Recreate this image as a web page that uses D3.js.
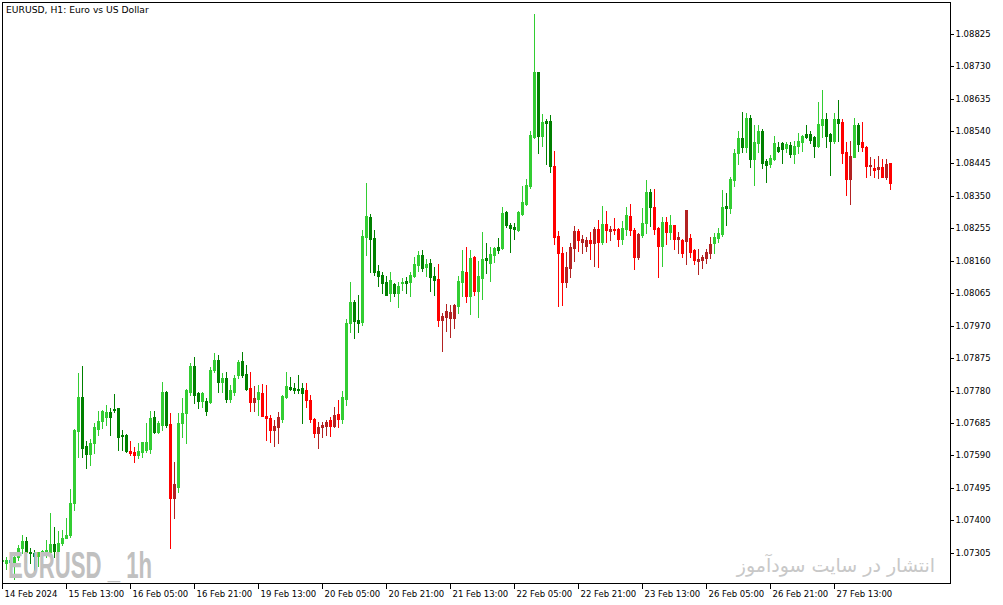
<!DOCTYPE html>
<html><head><meta charset="utf-8">
<script src="https://cdn.jsdelivr.net/npm/d3@7"></script>
<style>html,body{margin:0;padding:0;background:#fff;overflow:hidden}svg{display:block}</style>
</head><body>
<svg id="chart" width="1003" height="605"></svg>
<script>
const title = "EURUSD, H1:  Euro vs US Dollar";
const watermark = "EURUSD _ 1h";
const siteText = "انتشار در سایت سودآموز";
const timeLabels = ["14 Feb 2024","15 Feb 13:00","16 Feb 05:00","16 Feb 21:00","19 Feb 13:00","20 Feb 05:00","20 Feb 21:00","21 Feb 13:00","22 Feb 05:00","22 Feb 21:00","23 Feb 13:00","26 Feb 05:00","26 Feb 21:00","27 Feb 13:00"];
const labelBars = [0,16,32,48,64,80,96,112,128,144,160,176,192,208];
const priceTicks = [1.08825,1.08730,1.08635,1.08540,1.08445,1.08350,1.08255,1.08160,1.08065,1.07970,1.07875,1.07780,1.07685,1.07590,1.07495,1.07400,1.07305];

const open = [1.07281,1.07276,1.07284,1.07278,1.07293,1.07318,1.07340,1.07308,1.07304,1.07295,1.07307,1.07304,1.07308,1.07331,1.07311,1.07334,1.07349,1.07357,1.07451,1.07662,
1.07760,1.07618,1.07594,1.07625,1.07666,1.07692,1.07703,1.07718,1.07727,1.07728,1.07650,1.07650,1.07603,1.07601,1.07591,1.07601,1.07606,1.07608,1.07702,1.07659,
1.07679,1.07777,1.07682,1.07465,1.07498,1.07684,1.07715,1.07777,1.07852,1.07772,1.07750,1.07749,1.07747,1.07840,1.07869,1.07804,1.07816,1.07754,1.07777,1.07826,
1.07866,1.07828,1.07787,1.07747,1.07754,1.07772,1.07705,1.07700,1.07664,1.07674,1.07696,1.07762,1.07790,1.07787,1.07784,1.07787,1.07782,1.07752,1.07696,1.07656,
1.07672,1.07676,1.07694,1.07676,1.07711,1.07698,1.07756,1.07977,1.08039,1.07987,1.07982,1.08229,1.08288,1.08227,1.08130,1.08118,1.08097,1.08066,1.08093,1.08066,
1.08094,1.08101,1.08099,1.08115,1.08148,1.08177,1.08143,1.08153,1.08115,1.08107,1.07987,1.07994,1.07992,1.07992,1.08028,1.08099,1.08127,1.08058,1.08172,1.08072,
1.08110,1.08169,1.08153,1.08177,1.08201,1.08197,1.08304,1.08265,1.08258,1.08250,1.08297,1.08326,1.08380,1.08523,1.08714,1.08525,1.08569,1.08569,1.08438,1.08233,
1.08184,1.08099,1.08140,1.08198,1.08247,1.08216,1.08203,1.08221,1.08213,1.08253,1.08216,1.08268,1.08248,1.08253,1.08253,1.08224,1.08252,1.08291,1.08250,1.08170,
1.08236,1.08270,1.08362,1.08318,1.08255,1.08203,1.08273,1.08245,1.08265,1.08224,1.08221,1.08219,1.08226,1.08192,1.08159,1.08162,1.08169,1.08184,1.08211,1.08226,
1.08238,1.08320,1.08315,1.08397,1.08476,1.08519,1.08492,1.08577,1.08458,1.08506,1.08541,1.08452,1.08443,1.08457,1.08492,1.08504,1.08489,1.08499,1.08472,1.08496,
1.08509,1.08531,1.08531,1.08523,1.08496,1.08558,1.08575,1.08531,1.08512,1.08575,1.08567,1.08479,1.08399,1.08465,1.08558,1.08509,1.08494,1.08438,1.08433,1.08429,
1.08436,1.08406,1.08445];

const high = [1.07293,1.07293,1.07298,1.07298,1.07328,1.07357,1.07352,1.07319,1.07313,1.07307,1.07313,1.07342,1.07420,1.07380,1.07370,1.07372,1.07406,1.07491,1.07666,1.07830,
1.07852,1.07632,1.07637,1.07684,1.07721,1.07723,1.07738,1.07728,1.07770,1.07728,1.07664,1.07652,1.07632,1.07616,1.07625,1.07630,1.07684,1.07721,1.07721,1.07691,
1.07804,1.07780,1.07715,1.07572,1.07715,1.07757,1.07784,1.07860,1.07879,1.07777,1.07777,1.07757,1.07850,1.07889,1.07884,1.07830,1.07833,1.07796,1.07826,1.07869,
1.07894,1.07855,1.07835,1.07793,1.07796,1.07798,1.07796,1.07708,1.07694,1.07718,1.07767,1.07835,1.07820,1.07802,1.07826,1.07801,1.07801,1.07767,1.07699,1.07689,
1.07689,1.07694,1.07703,1.07733,1.07752,1.07780,1.07989,1.08098,1.08045,1.08060,1.08250,1.08389,1.08297,1.08250,1.08148,1.08128,1.08115,1.08128,1.08096,1.08099,
1.08109,1.08112,1.08128,1.08172,1.08190,1.08192,1.08164,1.08164,1.08143,1.08151,1.08008,1.08033,1.08030,1.08033,1.08115,1.08192,1.08201,1.08192,1.08174,1.08160,
1.08245,1.08211,1.08201,1.08201,1.08228,1.08318,1.08307,1.08272,1.08272,1.08307,1.08379,1.08399,1.08540,1.08883,1.08714,1.08590,1.08575,1.08587,1.08481,1.08248,
1.08201,1.08187,1.08211,1.08262,1.08252,1.08236,1.08231,1.08245,1.08260,1.08279,1.08320,1.08307,1.08262,1.08284,1.08255,1.08277,1.08318,1.08326,1.08255,1.08240,
1.08315,1.08397,1.08369,1.08369,1.08258,1.08289,1.08289,1.08294,1.08265,1.08245,1.08223,1.08309,1.08238,1.08194,1.08194,1.08177,1.08194,1.08229,1.08242,1.08255,
1.08367,1.08358,1.08406,1.08486,1.08541,1.08597,1.08592,1.08587,1.08558,1.08558,1.08545,1.08458,1.08470,1.08525,1.08509,1.08509,1.08509,1.08509,1.08512,1.08535,
1.08528,1.08558,1.08541,1.08525,1.08626,1.08660,1.08594,1.08535,1.08592,1.08631,1.08574,1.08509,1.08512,1.08577,1.08564,1.08567,1.08496,1.08465,1.08458,1.08467,
1.08457,1.08457,1.08445];

const low = [1.07269,1.07257,1.07266,1.07228,1.07284,1.07304,1.07279,1.07275,1.07246,1.07266,1.07264,1.07293,1.07304,1.07293,1.07303,1.07328,1.07347,1.07352,1.07430,1.07586,
1.07586,1.07552,1.07562,1.07598,1.07650,1.07670,1.07679,1.07650,1.07718,1.07606,1.07606,1.07601,1.07591,1.07572,1.07582,1.07585,1.07601,1.07596,1.07655,1.07656,
1.07664,1.07674,1.07318,1.07406,1.07484,1.07645,1.07625,1.07767,1.07743,1.07728,1.07733,1.07708,1.07743,1.07835,1.07777,1.07777,1.07747,1.07747,1.07767,1.07816,
1.07820,1.07782,1.07721,1.07720,1.07708,1.07705,1.07635,1.07630,1.07618,1.07625,1.07689,1.07757,1.07782,1.07773,1.07773,1.07686,1.07733,1.07689,1.07645,1.07613,
1.07645,1.07650,1.07647,1.07672,1.07672,1.07686,1.07739,1.07952,1.07935,1.07952,1.07972,1.08177,1.08128,1.08118,1.08087,1.08067,1.08060,1.08043,1.08058,1.08026,
1.08074,1.08066,1.08058,1.08113,1.08131,1.08131,1.08115,1.08072,1.08060,1.07969,1.07897,1.07955,1.07938,1.07962,1.08008,1.08057,1.08040,1.08004,1.08060,1.07996,
1.08048,1.08123,1.08102,1.08156,1.08184,1.08194,1.08258,1.08187,1.08223,1.08248,1.08294,1.08323,1.08372,1.08520,1.08476,1.08496,1.08443,1.08421,1.08209,1.08028,
1.08030,1.08084,1.08113,1.08160,1.08189,1.08182,1.08189,1.08164,1.08145,1.08143,1.08209,1.08216,1.08221,1.08238,1.08203,1.08209,1.08236,1.08236,1.08136,1.08164,
1.08231,1.08242,1.08262,1.08238,1.08113,1.08146,1.08208,1.08224,1.08195,1.08182,1.08172,1.08151,1.08170,1.08151,1.08121,1.08138,1.08153,1.08168,1.08182,1.08216,
1.08233,1.08265,1.08301,1.08379,1.08443,1.08479,1.08479,1.08436,1.08382,1.08479,1.08431,1.08392,1.08436,1.08455,1.08479,1.08447,1.08479,1.08463,1.08447,1.08476,
1.08482,1.08519,1.08504,1.08465,1.08492,1.08523,1.08492,1.08411,1.08506,1.08512,1.08445,1.08353,1.08326,1.08463,1.08482,1.08482,1.08404,1.08411,1.08404,1.08402,
1.08404,1.08399,1.08370];

const close = [1.07284,1.07284,1.07278,1.07293,1.07319,1.07340,1.07308,1.07304,1.07295,1.07307,1.07310,1.07313,1.07331,1.07311,1.07334,1.07349,1.07357,1.07451,1.07664,1.07760,
1.07613,1.07594,1.07625,1.07672,1.07691,1.07721,1.07718,1.07702,1.07723,1.07645,1.07647,1.07604,1.07596,1.07591,1.07604,1.07628,1.07630,1.07700,1.07659,1.07684,
1.07777,1.07679,1.07465,1.07506,1.07684,1.07715,1.07782,1.07852,1.07767,1.07750,1.07772,1.07721,1.07840,1.07869,1.07804,1.07816,1.07754,1.07782,1.07816,1.07864,
1.07826,1.07784,1.07747,1.07757,1.07777,1.07705,1.07700,1.07664,1.07676,1.07702,1.07764,1.07793,1.07785,1.07782,1.07782,1.07774,1.07752,1.07696,1.07655,1.07672,
1.07679,1.07689,1.07676,1.07708,1.07698,1.07761,1.07979,1.08039,1.07985,1.07979,1.08233,1.08291,1.08225,1.08128,1.08115,1.08096,1.08060,1.08104,1.08067,1.08087,
1.08099,1.08096,1.08118,1.08151,1.08177,1.08140,1.08151,1.08113,1.08104,1.07987,1.07998,1.08013,1.08011,1.08030,1.08101,1.08130,1.08058,1.08169,1.08072,1.08115,
1.08165,1.08162,1.08180,1.08198,1.08192,1.08301,1.08265,1.08255,1.08253,1.08303,1.08333,1.08382,1.08528,1.08714,1.08525,1.08566,1.08564,1.08438,1.08231,1.08184,
1.08099,1.08143,1.08201,1.08247,1.08221,1.08224,1.08221,1.08212,1.08253,1.08216,1.08268,1.08250,1.08253,1.08250,1.08224,1.08255,1.08294,1.08250,1.08172,1.08238,
1.08272,1.08362,1.08317,1.08252,1.08203,1.08273,1.08245,1.08265,1.08224,1.08231,1.08184,1.08309,1.08187,1.08162,1.08165,1.08172,1.08185,1.08209,1.08229,1.08240,
1.08318,1.08315,1.08399,1.08476,1.08519,1.08492,1.08577,1.08458,1.08508,1.08541,1.08447,1.08441,1.08460,1.08506,1.08481,1.08486,1.08502,1.08472,1.08496,1.08511,
1.08525,1.08522,1.08514,1.08496,1.08561,1.08575,1.08525,1.08512,1.08575,1.08564,1.08476,1.08399,1.08467,1.08558,1.08502,1.08492,1.08438,1.08441,1.08426,1.08436,
1.08406,1.08443,1.08389];

// trend state of the coloured-candle indicator: 1 = up (green tones), -1 = down (red tones)
const trend = [1,1,1,1,1,1,1,1,1,1,1,1,1,1,1,1,1,1,1,1,1,1,1,1,1,1,1,1,1,1,1,1,
-1,-1,1,1,1,1,1,1,1,1,-1,-1,
1,1,1,1,1,1,1,1,1,1,1,1,1,1,1,1,1,1,
-1,-1,1,-1,-1,-1,-1,-1,1,1,1,1,1,1,
-1,-1,-1,-1,-1,-1,-1,-1,-1,
1,1,1,1,1,1,1,1,1,1,1,1,1,1,1,1,1,1,1,1,1,1,1,1,
-1,-1,-1,-1,-1,1,1,-1,1,-1,
1,1,1,1,1,1,1,1,1,1,1,1,1,1,1,1,1,1,1,
-1,-1,-1,-1,-1,-1,-1,-1,-1,-1,-1,-1,
1,-1,-1,-1,-1,1,1,-1,-1,-1,1,1,1,-1,-1,1,-1,1,
-1,-1,-1,-1,-1,-1,-1,-1,-1,-1,
1,1,1,1,1,1,1,1,1,1,1,1,1,1,1,1,1,1,1,1,1,1,1,1,1,1,1,1,1,1,1,1,
-1,-1,-1,1,1,-1,-1,-1,-1,-1,-1,-1,-1];

const N = open.length;
const bars = d3.range(N).map(i => ({i, o: open[i], h: high[i], l: low[i], c: close[i], t: trend[i]}));

const svg = d3.select("#chart");
const W = 1003, H = 605;
const plot = {left: 2, top: 2, right: 950, bottom: 583};

const x = d3.scaleLinear().domain([0, N - 1]).range([2, 890]);
const y = d3.scaleLinear().domain([1.07305, 1.08825]).range([552.7, 33.7]);

const colorOf = d => d.t > 0 ? (d.c >= d.o ? "#32CD32" : "#008000") : (d.c <= d.o ? "#FF0000" : "#B22222");

svg.append("rect").attr("width", W).attr("height", H).attr("fill", "#fff");

svg.append("clipPath").attr("id", "clip").append("rect")
  .attr("x", plot.left + 1).attr("y", plot.top + 1)
  .attr("width", plot.right - plot.left - 1).attr("height", plot.bottom - plot.top - 1);

const candles = svg.append("g").attr("clip-path", "url(#clip)").attr("shape-rendering", "crispEdges");
const g = candles.selectAll("g").data(bars).join("g");
g.append("rect")
  .attr("x", d => Math.round(x(d.i)))
  .attr("width", 1)
  .attr("y", d => Math.round(y(d.h)))
  .attr("height", d => Math.max(1, Math.round(y(d.l)) - Math.round(y(d.h)) + 1))
  .attr("fill", colorOf);
g.append("rect")
  .attr("x", d => Math.round(x(d.i)) - 1)
  .attr("width", 3)
  .attr("y", d => Math.round(y(Math.max(d.o, d.c))))
  .attr("height", d => Math.max(1, Math.round(y(Math.min(d.o, d.c))) - Math.round(y(Math.max(d.o, d.c))) + 1))
  .attr("fill", colorOf);

// watermarks
svg.append("text")
  .attr("x", 8).attr("y", 578)
  .attr("font-family", "'Liberation Sans Narrow','Liberation Sans',Arial,sans-serif")
  .attr("font-weight", "bold").attr("font-size", 36)
  .attr("textLength", 144).attr("lengthAdjust", "spacingAndGlyphs")
  .attr("fill", "#c0c0c0")
  .text(watermark);

svg.append("text")
  .attr("x", 836).attr("y", 572)
  .attr("text-anchor", "middle")
  .attr("font-family", "'DejaVu Sans',sans-serif")
  .attr("font-size", 19)
  .attr("fill", "#c8c8c8")
  .text(siteText);

// frame
svg.append("rect")
  .attr("x", plot.left + 0.5).attr("y", plot.top + 0.5)
  .attr("width", plot.right - plot.left).attr("height", plot.bottom - plot.top)
  .attr("fill", "none").attr("stroke", "#000").attr("stroke-width", 1);

// title
svg.append("text")
  .attr("x", 6).attr("y", 13)
  .attr("font-family", "'DejaVu Sans',sans-serif").attr("font-size", 9.2)
  .attr("fill", "#000")
  .text(title);

// price axis
const yAxis = d3.axisRight(y).tickValues(priceTicks).tickSize(3).tickPadding(2).tickFormat(d3.format(".5f"));
const ya = svg.append("g").attr("transform", `translate(${plot.right + 0.5},0)`).call(yAxis);
ya.select(".domain").remove();
ya.selectAll("line").attr("stroke", "#000").attr("shape-rendering", "crispEdges");
ya.selectAll(".tick").attr("transform", d => `translate(0,${Math.round(y(d)) + 0.5})`);
ya.selectAll("text").attr("font-family", "'DejaVu Sans',sans-serif").attr("font-size", 8.5).attr("fill", "#000");

// time axis
const xAxis = d3.axisBottom(x).tickValues(labelBars).tickSize(5).tickPadding(2).tickFormat((d, i) => timeLabels[i]);
const xa = svg.append("g").attr("transform", `translate(0,${plot.bottom + 0.5})`).call(xAxis);
xa.select(".domain").remove();
xa.selectAll(".tick").attr("transform", d => `translate(${Math.round(x(d)) + 0.5},0)`);
xa.selectAll("line").attr("stroke", "#000").attr("shape-rendering", "crispEdges");
xa.selectAll("text").attr("text-anchor", "start").attr("x", 2)
  .attr("font-family", "'DejaVu Sans',sans-serif").attr("font-size", 8.5).attr("fill", "#000");
</script>
</body></html>
